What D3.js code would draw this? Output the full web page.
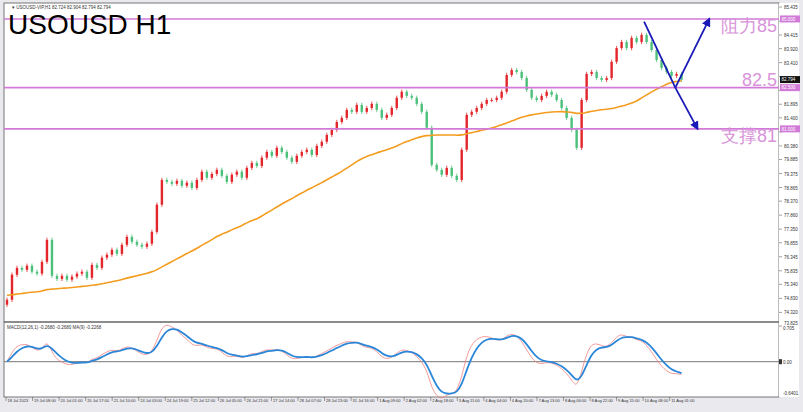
<!DOCTYPE html>
<html><head><meta charset="utf-8">
<script src="https://cdn.jsdelivr.net/npm/d3@7"></script>
<style>body{margin:0;background:#fff}svg{display:block;font-family:Arial,"Liberation Sans",sans-serif}</style>
</head><body><svg id="c" width="803" height="412"></svg>
<script>
// approximate 3-hour closes, USOUSD
const closes=[74.78,75.69,75.94,75.87,76.02,75.80,75.73,76.16,76.96,75.65,75.54,75.65,75.51,75.62,75.73,75.80,75.58,76.05,75.94,76.31,76.42,76.60,76.45,76.78,77.07,76.89,76.78,76.71,76.82,77.25,78.24,79.14,79.07,79.00,79.11,78.93,79.04,78.85,79.14,79.44,79.22,79.36,79.51,79.29,79.07,79.33,79.44,79.22,79.58,79.76,79.65,79.95,80.16,80.02,80.31,80.16,79.95,79.80,80.02,80.16,80.24,80.05,80.38,80.53,80.78,80.96,81.25,81.40,81.69,81.62,81.87,81.62,81.76,81.91,81.69,81.40,81.51,81.76,82.13,82.35,82.20,82.13,81.91,81.62,81.04,79.69,79.51,79.33,79.58,79.29,79.14,80.24,81.51,81.62,81.76,81.91,82.05,82.05,82.13,82.35,82.96,83.14,83.07,82.85,82.42,82.13,82.05,82.20,82.35,82.24,82.05,81.76,81.40,80.96,80.31,82.05,83.00,83.07,82.85,82.78,82.85,83.44,83.94,84.16,83.94,84.31,84.16,84.42,84.16,83.87,83.51,83.22,83.07,82.93,83.00,82.79];
const openFirst=74.60;
const maStart=74.95; // MA value before the first visible bar
const timeLabels=["18 Jul 2023","19 Jul 08:00","20 Jul 01:00","20 Jul 17:00","21 Jul 10:00","24 Jul 03:00","24 Jul 19:00","25 Jul 12:00","26 Jul 05:00","26 Jul 21:00","27 Jul 14:00","28 Jul 07:00","28 Jul 23:00","31 Jul 16:00","1 Aug 09:00","2 Aug 02:00","2 Aug 18:00","3 Aug 11:00","4 Aug 04:00","4 Aug 20:00","7 Aug 13:00","8 Aug 06:00","8 Aug 22:00","9 Aug 15:00","10 Aug 08:00","11 Aug 01:00"];
const priceTicks=[85.435,84.925,84.415,83.920,83.410,82.905,82.400,81.895,81.400,80.890,80.380,79.885,79.375,78.865,78.370,77.860,77.350,76.855,76.345,75.835,75.340,74.830,74.320,73.825];
const levels=[85.000,82.500,81.000];
const levelText=["阻力85","82.5","支撑81"];
const current=82.794;

const svg=d3.select("#c");
const L=4,R=779,T=3,MB=322,IB=397;
svg.append("rect").attr("width",803).attr("height",412).attr("fill","#e9e9ee");
svg.append("rect").attr("x",L).attr("y",T).attr("width",R-L).attr("height",IB-T).attr("fill","#fff").attr("stroke","#777");
svg.append("rect").attr("x",R).attr("y",T).attr("width",20).attr("height",IB-T).attr("fill","#fff");

const hours=d3.range(closes.length).map(i=>i*3.2);
const x=d3.scaleLinear().domain([0,431]).range([7,680]);
const y=d3.scaleLinear().domain([73.825,85.435]).range([326,7]);

const data=closes.map((c,i)=>{const o=i?closes[i-1]:openFirst;return {h:hours[i],o,c,hi:Math.max(o,c)+0.08,lo:Math.min(o,c)-0.08};});
const main=svg.append("g");
data.forEach(d=>{
  const col=d.c>=d.o?"#e3262b":"#4cc07a";
  main.append("line").attr("x1",x(d.h)).attr("x2",x(d.h)).attr("y1",y(d.hi)).attr("y2",y(d.lo)).attr("stroke",col).attr("stroke-width",0.8);
  main.append("rect").attr("x",x(d.h)-1.2).attr("width",2.4).attr("y",y(Math.max(d.o,d.c))).attr("height",Math.max(1,Math.abs(y(d.o)-y(d.c)))).attr("fill",col);
});
// moving average (derived, pre-history filled with maStart)
const W=42;
const ext=d3.range(W).map(()=>maStart).concat(closes);
const ma=closes.map((c,i)=>d3.mean(ext.slice(i+1,i+W+1)));
main.append("path").datum(ma).attr("fill","none").attr("stroke","#f39c1f").attr("stroke-width",1.6)
 .attr("d",d3.line().x((d,i)=>x(hours[i])).y(d=>y(d)).curve(d3.curveMonotoneX));

levels.forEach((v,i)=>{
  svg.append("line").attr("x1",L).attr("x2",R).attr("y1",y(v)).attr("y2",y(v)).attr("stroke","#d27ad8").attr("stroke-width",1.6);
  svg.append("text").attr("x",777).attr("y",y(v)+(i==1?-2:13)).attr("text-anchor","end").attr("font-size",18).attr("fill","#d893da").text(levelText[i]);
});
const blue="#1a1ab8";
svg.append("defs").append("marker").attr("id","ah").attr("viewBox","0 0 10 10").attr("refX",8).attr("refY",5).attr("markerWidth",5).attr("markerHeight",5).attr("orient","auto")
 .append("path").attr("d","M0,0L10,5L0,10z").attr("fill",blue);
const tip=[x(428),y(82.5)];
svg.append("line").attr("x1",x(408)).attr("y1",y(84.9)).attr("x2",tip[0]).attr("y2",tip[1]).attr("stroke",blue).attr("stroke-width",1.8);
svg.append("line").attr("x1",tip[0]).attr("y1",tip[1]).attr("x2",x(444)+9).attr("y2",y(85.0)).attr("stroke",blue).attr("stroke-width",1.8).attr("marker-end","url(#ah)");
svg.append("line").attr("x1",tip[0]).attr("y1",tip[1]).attr("x2",x(432)+16).attr("y2",y(81.0)).attr("stroke",blue).attr("stroke-width",1.8).attr("marker-end","url(#ah)");

const tagVals=levels.concat([current]);
priceTicks.forEach(p=>{
  svg.append("line").attr("x1",R).attr("x2",R+3).attr("y1",y(p)).attr("y2",y(p)).attr("stroke","#444").attr("stroke-width",0.5);
  if(tagVals.some(v=>Math.abs(y(v)-y(p))<6))return;
  svg.append("text").attr("x",R+5).attr("y",y(p)+(p===73.825?-1:2)).attr("font-size",4.5).attr("fill","#333").text(p.toFixed(3));
});
function tag(v,bg,fg){svg.append("rect").attr("x",R+1).attr("y",y(v)-3.5).attr("width",20).attr("height",7).attr("fill",bg);
  svg.append("text").attr("x",R+2.5).attr("y",y(v)+1.8).attr("font-size",4.5).attr("fill",fg).text(v.toFixed(3));}
levels.forEach(v=>tag(v,"#d27ad8","#fff"));
tag(current,"#111","#fff");

function ema(a,n){const k=2/(n+1);let e=a[0];return a.map(v=>e=e+k*(v-e));}
const e1=ema(closes,4),e2=ema(closes,9);
const macd=closes.map((c,i)=>e1[i]-e2[i]);
const sig=ema(macd,3);
svg.append("line").attr("x1",L).attr("x2",R).attr("y1",MB).attr("y2",MB).attr("stroke","#666").attr("stroke-width",1.5);
const yi=d3.scaleLinear().domain([-0.6401,0.705]).range([395,325]);
svg.append("line").attr("x1",L).attr("x2",R).attr("y1",yi(0)).attr("y2",yi(0)).attr("stroke","#777").attr("stroke-width",1);
const lineI=d3.line().x((d,i)=>x(hours[i])).y(d=>yi(d)).curve(d3.curveBasis);
svg.append("path").datum(macd).attr("fill","none").attr("stroke","#f07f7f").attr("stroke-width",0.8).attr("d",lineI);
svg.append("path").datum(sig).attr("fill","none").attr("stroke","#2a86d8").attr("stroke-width",1.8).attr("d",lineI);
[[0.705,"0.705",4.5],[0,"0.00",2],[-0.6401,"-0.6401",0]].forEach(([v,t,dy])=>svg.append("text").attr("x",R+4).attr("y",yi(v)+dy).attr("font-size",4.5).attr("fill","#333").text(t));
svg.append("rect").attr("x",R).attr("y",yi(0)-2.5).attr("width",3).attr("height",5).attr("fill","#333");
svg.append("text").attr("x",7).attr("y",329).attr("font-size",4.5).attr("fill","#333").text("MACD(12,26,1) -0.2680 -0.2680  MA(9) -0.2268");

timeLabels.forEach((t,i)=>{const xx=x(i*17)-1;
  svg.append("line").attr("x1",xx).attr("x2",xx).attr("y1",IB).attr("y2",IB+4).attr("stroke","#444").attr("stroke-width",0.5);
  svg.append("text").attr("x",xx+1.5).attr("y",IB+5).attr("font-size",4).attr("fill","#333").text(t);});

svg.append("text").attr("x",12).attr("y",9).attr("font-size",4.5).attr("fill","#333").text("▾ USOUSD-VIP,H1  82.724 82.904 82.794 82.794");
svg.append("text").attr("x",8).attr("y",34).attr("font-size",28).attr("fill","#000").text("USOUSD H1");
</script></body></html>
